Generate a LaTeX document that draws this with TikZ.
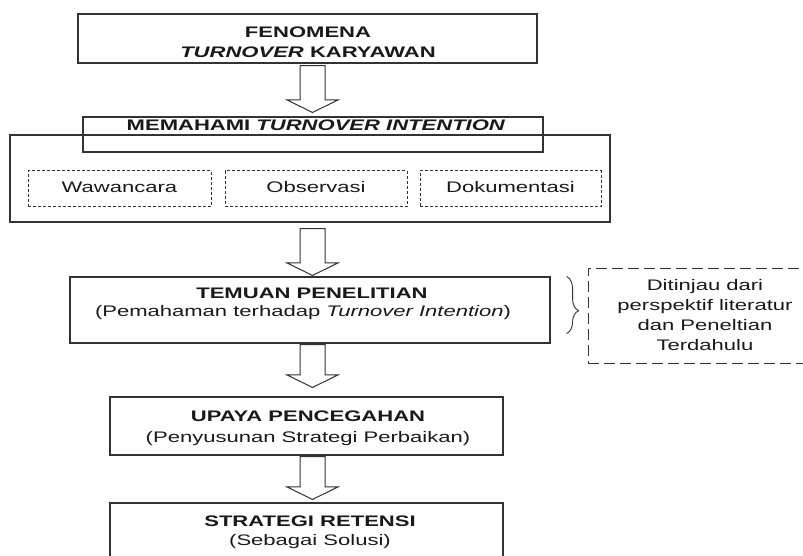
\documentclass[tikz,border=0pt]{standalone}
\usepackage{fontspec}
\setmainfont[FakeStretch=1.44]{Liberation Sans}
\usetikzlibrary{calc,decorations.pathreplacing}
\newcommand\blockarrow[2]{%
  \draw[blk] let \p1=(#1), \p2=(#2) in
    (\x1-12.5pt,\y1) -- (\x1-12.5pt,\y2+12.5pt) -- (\x1-25.5pt,\y2+12.5pt) --
    (\x1,\y2) -- (\x1+25.5pt,\y2+12.5pt) -- (\x1+12.5pt,\y2+12.5pt) --
    (\x1+12.5pt,\y1) -- cycle;}
\begin{document}
\begin{tikzpicture}[x=1pt,y=-1pt,
  box/.style={draw=black!80, line width=1.1pt, inner sep=0pt},
  dbox/.style={draw=black!80, line width=1pt, dash pattern=on 3pt off 2pt, inner sep=0pt},
  bdash/.style={draw=black!80, line width=1pt, dash pattern=on 11pt off 5pt, inner sep=0pt},
  txt/.style={anchor=base, inner sep=0pt, text=black!90, font=\fontsize{15.3}{20}\selectfont},
  btxt/.style={txt, font=\fontsize{15.3}{20}\selectfont\bfseries},
  blk/.style={draw=black!80, line width=1pt, fill=white, line join=miter}]
\useasboundingbox (0,0) rectangle (803,556);
\clip (0,0) rectangle (803,556);
\coordinate (ax) at (312.5,0);

% top box
\node[box, minimum width=459pt, minimum height=49pt] (fen) at (307.5,38.5) {};
\node[btxt] (fen1) at (308,37.5) {FENOMENA};
\node[btxt] (fen2) at (308,58) {\textit{TURNOVER} KARYAWAN};

% outer box + title box
\node[box, minimum width=600pt, minimum height=87pt] (outer) at (310,178.5) {};
\node[box, minimum width=460pt, minimum height=35pt] (mem) at (313,134.5) {};
\node[btxt] (mem1) at (316,131) {MEMAHAMI \textit{TURNOVER INTENTION}};

\node[dbox, minimum width=183pt, minimum height=36pt] (waw) at (119.5,189) {};
\node[dbox, minimum width=182pt, minimum height=36pt] (obs) at (316,189) {};
\node[dbox, minimum width=181pt, minimum height=36pt] (dok) at (510.5,189) {};
\node[txt] (waw1) at (119.5,193) {Wawancara};
\node[txt] (obs1) at (316,193) {Observasi};
\node[txt] (dok1) at (510.5,193) {Dokumentasi};

% temuan
\node[box, minimum width=480pt, minimum height=66pt] (tem) at (310,310) {};
\node[btxt] (tem1) at (312,298) {TEMUAN PENELITIAN};
\node[txt] (tem2) at (303,316) {(Pemahaman terhadap \textit{Turnover Intention})};

% brace and side note
\draw[decorate, decoration={brace, amplitude=12pt, aspect=0.6}, draw=black!80, line width=0.9pt]
  ($(tem.north east)+(16,0)$) -- ($(tem.south east)+(16,-10)$);
\node[bdash, minimum width=234pt, minimum height=95pt] (lit) at (705,315.5) {};
\node[txt] (lit1) at (705,290.7) {Ditinjau dari};
\node[txt] (lit2) at (705,310.6) {perspektif literatur};
\node[txt] (lit3) at (705,330.5) {dan Peneltian};
\node[txt] (lit4) at (705,350.4) {Terdahulu};

% upaya
\node[box, minimum width=393pt, minimum height=58pt] (upa) at (306.5,426) {};
\node[btxt] (upa1) at (308,421) {UPAYA PENCEGAHAN};
\node[txt] (upa2) at (308,442) {(Penyusunan Strategi Perbaikan)};

% strategi
\node[box, minimum width=393pt, minimum height=72pt] (str) at (306.5,539) {};
\node[btxt] (str1) at (310,526) {STRATEGI RETENSI};
\node[txt] (str2) at (310,545) {(Sebagai Solusi)};

% block arrows
\blockarrow{$(fen.south -| ax)+(0,2)$}{$(mem.north -| ax)+(0,-4)$}
\blockarrow{$(outer.south -| ax)+(0,6)$}{$(tem.north -| ax)+(0,-1)$}
\blockarrow{$(tem.south -| ax)+(0,1)$}{$(upa.north -| ax)+(0,-9)$}
\blockarrow{$(upa.south -| ax)+(0,1)$}{$(str.north -| ax)+(0,-3)$}
\end{tikzpicture}
\end{document}
